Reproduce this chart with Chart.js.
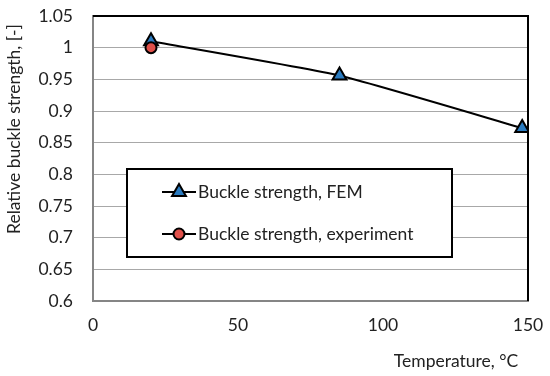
<!DOCTYPE html>
<html>
<head>
<meta charset="utf-8">
<script src="https://cdn.jsdelivr.net/npm/chart.js@4.4.0/dist/chart.umd.min.js"></script>
<style>
  html, body { margin: 0; padding: 0; background: #fff; }
  #wrap { width: 550px; height: 376px; }
</style>
</head>
<body>
<div id="wrap"><canvas id="buckleChart" width="550" height="376"></canvas></div>
<script>
// values
var femTemps = [20, 85, 148];
var femValues = [1.01, 0.956, 0.873];
var expTemps = [20];
var expValues = [1.0];
var seriesNames = ["Buckle strength, FEM", "Buckle strength, experiment"];
var xTitle = "Temperature, °C";
var yTitle = "Relative buckle strength, [-]";

var FONT = "Lato, 'Open Sans', sans-serif";
var FSIZE = 17.5;

function toPoints(xs, ys) {
  var pts = [];
  for (var i = 0; i < xs.length; i++) {
    pts.push({ x: xs[i], y: ys[i] });
  }
  return pts;
}

// black frame on top/right, titles and the boxed legend inside the plot
var extras = {
  id: "extras",
  afterDraw: function(chart) {
    var ctx = chart.ctx;
    var a = chart.chartArea;
    ctx.save();
    ctx.strokeStyle = "#000";
    ctx.lineWidth = 2;
    ctx.beginPath();
    ctx.moveTo(a.left, a.top);
    ctx.lineTo(a.right, a.top);
    ctx.lineTo(a.right, a.bottom);
    ctx.stroke();

    ctx.fillStyle = "#222";
    ctx.font = FSIZE + "px " + FONT;
    ctx.textAlign = "center";
    ctx.textBaseline = "middle";
    ctx.fillText(xTitle, 456, 361);

    ctx.translate(14, 129);
    ctx.rotate(-Math.PI / 2);
    ctx.fillText(yTitle, 0, 0);
    ctx.restore();

    // legend box
    ctx.save();
    var bx = 127, by = 169, bw = 325, bh = 88;
    ctx.fillStyle = "#fff";
    ctx.fillRect(bx, by, bw, bh);
    ctx.strokeStyle = "#000";
    ctx.lineWidth = 2;
    ctx.strokeRect(bx, by, bw, bh);
    var rows = [192, 234];
    var order = [0, 1];
    order.forEach(function(di, k) {
      var ds = chart.data.datasets[di];
      var y = rows[k];
      ctx.strokeStyle = "#000";
      ctx.lineWidth = 2;
      ctx.beginPath();
      ctx.moveTo(162, y);
      ctx.lineTo(196, y);
      ctx.stroke();
      ctx.fillStyle = ds.pointBackgroundColor;
      ctx.strokeStyle = ds.pointBorderColor;
      ctx.lineWidth = ds.pointBorderWidth;
      Chart.helpers.drawPoint(ctx, {
        pointStyle: ds.pointStyle,
        radius: ds.pointRadius,
        borderWidth: ds.pointBorderWidth,
        rotation: 0
      }, 179, y);
      ctx.fillStyle = "#222";
      ctx.font = FSIZE + "px " + FONT;
      ctx.textAlign = "left";
      ctx.textBaseline = "middle";
      ctx.fillText(seriesNames[di], 198, y);
    });
    ctx.restore();
  }
};

var myChart = new Chart(document.getElementById("buckleChart"), {
  type: "scatter",
  data: {
    datasets: [
      {
        label: seriesNames[0],
        data: toPoints(femTemps, femValues),
        showLine: true,
        borderColor: "#000",
        borderWidth: 2,
        tension: 0.15,
        pointStyle: "triangle",
        pointRadius: 8,
        pointBackgroundColor: "#2a7bc0",
        pointBorderColor: "#000",
        pointBorderWidth: 2,
        order: 1
      },
      {
        label: seriesNames[1],
        data: toPoints(expTemps, expValues),
        showLine: false,
        pointStyle: "circle",
        pointRadius: 5.5,
        pointBackgroundColor: "#e0504a",
        pointBorderColor: "#000",
        pointBorderWidth: 2,
        order: 0
      }
    ]
  },
  options: {
    responsive: false,
    animation: false,
    events: [],
    layout: { autoPadding: false, padding: { top: 16, right: 22, left: 0, bottom: 0 } },
    plugins: {
      legend: { display: false },
      tooltip: { enabled: false }
    },
    scales: {
      x: {
        type: "linear",
        min: 0,
        max: 150,
        afterFit: function(scale) {
          scale.height = 75;
          scale.paddingLeft = 0;
          scale.paddingRight = 0;
        },
        ticks: {
          stepSize: 50,
          padding: 14,
          color: "#222",
          font: { family: FONT, size: FSIZE }
        },
        grid: { display: false, drawTicks: false },
        border: { color: "#858585", width: 2 }
      },
      y: {
        min: 0.6,
        max: 1.05,
        afterFit: function(scale) {
          scale.width = 93;
          scale.paddingTop = 0;
          scale.paddingBottom = 0;
        },
        ticks: {
          stepSize: 0.05,
          padding: 20,
          color: "#222",
          font: { family: FONT, size: FSIZE },
          callback: function(v) { return String(Number(v.toFixed(2))); }
        },
        grid: { color: "#a8a8a8", lineWidth: 1, drawTicks: false },
        border: { color: "#858585", width: 2 }
      }
    }
  },
  plugins: [extras]
});
</script>
</body>
</html>
